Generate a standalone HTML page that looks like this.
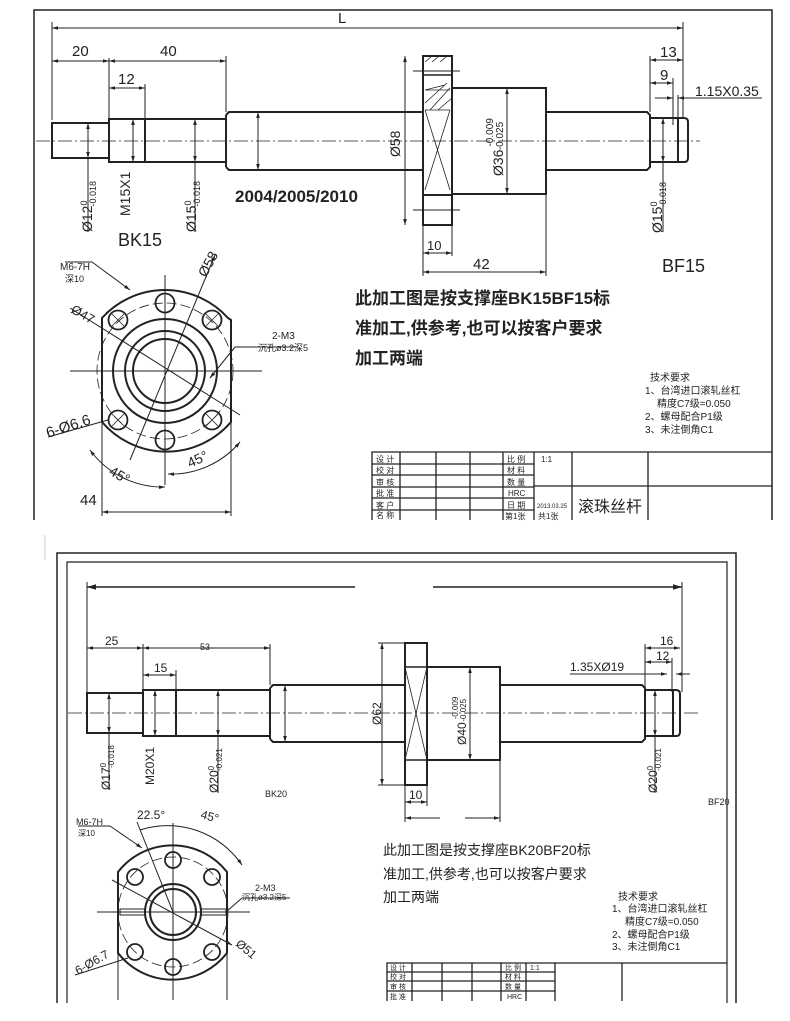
<!DOCTYPE html>
<html><head><meta charset="utf-8"><style>
html,body{margin:0;padding:0;background:#fff;}
svg{display:block;}
text{font-family:"Liberation Sans","Noto Sans CJK SC",sans-serif;fill:#222;}
.cj{font-family:"Liberation Sans","Noto Sans CJK SC",sans-serif;}
</style></head><body>
<svg width="790" height="1021" viewBox="0 0 790 1021" xmlns="http://www.w3.org/2000/svg">
<defs>
<marker id="a" viewBox="0 0 10 10" refX="10" refY="5" markerWidth="6" markerHeight="6" orient="auto-start-reverse"><path d="M0,2 L10,5 L0,8 z" fill="#222"/></marker>
</defs>
<g stroke="#222" fill="none" stroke-width="1">
<!-- ================= TOP DRAWING ================= -->
<path d="M34,520 V10 H772 V520" stroke-width="1.5"/>
<!-- L dim -->
<line x1="52" y1="28" x2="683" y2="28" marker-start="url(#a)" marker-end="url(#a)"/>
<line x1="52" y1="22" x2="52" y2="120"/>
<line x1="683" y1="22" x2="683" y2="118"/>
<!-- 20 / 40 -->
<line x1="52" y1="61" x2="109" y2="61" marker-start="url(#a)" marker-end="url(#a)"/>
<line x1="109" y1="61" x2="226" y2="61" marker-start="url(#a)" marker-end="url(#a)"/>
<line x1="109" y1="58" x2="109" y2="119"/>
<line x1="226" y1="56" x2="226" y2="112"/>
<line x1="109" y1="88" x2="145" y2="88" marker-start="url(#a)" marker-end="url(#a)"/>
<line x1="145" y1="84" x2="145" y2="119"/>
<!-- 13 / 9 -->
<line x1="650" y1="60" x2="683" y2="60" marker-start="url(#a)" marker-end="url(#a)"/>
<line x1="650" y1="56" x2="650" y2="112"/>
<line x1="650" y1="83" x2="673" y2="83" marker-start="url(#a)" marker-end="url(#a)"/>
<line x1="673" y1="78" x2="673" y2="125"/>
<line x1="678" y1="95" x2="678" y2="125"/>
<line x1="655" y1="98" x2="673" y2="98" marker-end="url(#a)"/>
<line x1="678" y1="98" x2="762" y2="98" marker-start="url(#a)"/>
<!-- centerline -->
<line x1="36" y1="141" x2="700" y2="141" stroke-dasharray="14,3,2,3" stroke-width="0.8"/>
<!-- shaft -->
<g stroke-width="2">
<rect x="52" y="123" width="57" height="35"/>
<rect x="109" y="119" width="36" height="43"/>
<rect x="145" y="119" width="81" height="43"/>
<path d="M226,115 L229,112 H423 M226,167 L229,170 H423 M226,115 V167"/>
<rect x="423" y="56" width="29" height="169"/>
<rect x="452" y="88" width="94" height="106"/>
<path d="M546,112 H647 L650,115 V167 L647,170 H546"/>
<path d="M650,118 H684 Q688,118 688,122 V158 Q688,162 684,162 H650"/>
<line x1="678" y1="118" x2="678" y2="162"/>
</g>
<line x1="423" y1="75" x2="452" y2="75" stroke-width="1.5"/>
<line x1="423" y1="195" x2="452" y2="195" stroke-width="2"/>
<line x1="413" y1="71" x2="460" y2="71"/>
<line x1="413" y1="210" x2="460" y2="210"/>
<path d="M425,90 L450,90 M425,110 L450,110 M425,90 l20,-5 M430,110 l20,-22 M425,103 l22,-20 M438,110 l14,-12 M425,62 l6,-5 M432,62 l6,-5 M440,62 l6,-5" stroke-width="0.8"/>
<path d="M425,110 L450,190 M450,110 L425,190" stroke-width="0.8"/>
<!-- vertical dims -->
<line x1="88" y1="123" x2="88" y2="158" marker-start="url(#a)" marker-end="url(#a)"/>
<line x1="88" y1="158" x2="88" y2="232"/>
<line x1="133" y1="119" x2="133" y2="162" marker-start="url(#a)" marker-end="url(#a)"/>
<line x1="195" y1="119" x2="195" y2="162" marker-start="url(#a)" marker-end="url(#a)"/>
<line x1="195" y1="162" x2="195" y2="232"/>
<line x1="258" y1="112" x2="258" y2="170" marker-start="url(#a)" marker-end="url(#a)"/>
<line x1="405" y1="56" x2="405" y2="225" marker-start="url(#a)" marker-end="url(#a)"/>
<line x1="507" y1="88" x2="507" y2="194" marker-start="url(#a)" marker-end="url(#a)"/>
<line x1="663" y1="118" x2="663" y2="162" marker-start="url(#a)" marker-end="url(#a)"/>
<line x1="663" y1="162" x2="663" y2="232"/>
<!-- 10 / 42 -->
<line x1="423" y1="225" x2="423" y2="276"/>
<line x1="452" y1="225" x2="452" y2="256"/>
<line x1="546" y1="194" x2="546" y2="276"/>
<line x1="423" y1="253" x2="452" y2="253" marker-start="url(#a)" marker-end="url(#a)"/>
<line x1="423" y1="272" x2="546" y2="272" marker-start="url(#a)" marker-end="url(#a)"/>
<!-- flange view top -->
<path d="M102,318 A85,85 0 0 1 228,318 L231,320 V422 A85,85 0 0 1 102,422 Z" stroke-width="2"/>
<circle cx="165" cy="371" r="52" stroke-width="2"/>
<circle cx="165" cy="371" r="40" stroke-width="2"/>
<circle cx="165" cy="371" r="32" stroke-width="2"/>
<circle cx="165" cy="371" r="68" stroke-dasharray="10,4" stroke-width="0.8"/>
<g stroke-width="1.8">
<circle cx="165" cy="303" r="9.5"/><circle cx="165" cy="440" r="9.5"/>
<circle cx="118" cy="320" r="9.5"/><circle cx="212" cy="320" r="9.5"/>
<circle cx="118" cy="420" r="9.5"/><circle cx="212" cy="420" r="9.5"/>
</g>
<path d="M112,314 l12,12 M124,314 l-12,12 M206,314 l12,12 M218,314 l-12,12 M112,414 l12,12 M124,414 l-12,12 M206,414 l12,12 M218,414 l-12,12" stroke-width="0.8"/>
<line x1="70" y1="371" x2="262" y2="371"/><line x1="165" y1="275" x2="165" y2="485"/>
<line x1="70" y1="308" x2="240" y2="415"/>
<line x1="130" y1="460" x2="215" y2="255" marker-end="url(#a)"/>
<line x1="65" y1="262" x2="92" y2="262"/><line x1="92" y1="262" x2="130" y2="290" marker-end="url(#a)"/>
<line x1="235" y1="347" x2="298" y2="347"/><line x1="235" y1="347" x2="210" y2="378" marker-end="url(#a)"/>
<line x1="48" y1="437" x2="108" y2="420"/>
<path d="M90,450 A90,90 0 0 0 165,487" marker-start="url(#a)" marker-end="url(#a)"/>
<path d="M168,474 A90,90 0 0 0 240,442" marker-start="url(#a)" marker-end="url(#a)"/>
<line x1="102" y1="422" x2="102" y2="516"/><line x1="231" y1="422" x2="231" y2="516"/>
<line x1="102" y1="512" x2="231" y2="512" marker-start="url(#a)" marker-end="url(#a)"/>
<!-- title block top -->
<g stroke-width="1.3">
<path d="M372,520 V452 H772 M372,464 H534 M372,475 H534 M372,487 H534 M372,498 H534 M372,510 H534 M534,486 H772"/>
<path d="M400,452 V520 M436,452 V520 M470,452 V520 M503,452 V520 M534,452 V520 M572,452 V520 M648,452 V520"/>
</g>

<!-- ================= BOTTOM DRAWING ================= -->
<path d="M57,1003 V553 H736 V1003" stroke-width="1.5"/>
<path d="M67,1003 V562 H727 V1003" stroke-width="1.2"/>
<line x1="45" y1="535" x2="45" y2="560" stroke="#ccc"/>
<line x1="87" y1="587" x2="355" y2="587" marker-start="url(#a)" stroke-width="1.5"/>
<line x1="433" y1="587" x2="682" y2="587" marker-end="url(#a)" stroke-width="1.5"/>
<line x1="87" y1="582" x2="87" y2="700"/><line x1="682" y1="582" x2="682" y2="692"/>
<line x1="87" y1="648" x2="143" y2="648" marker-start="url(#a)" marker-end="url(#a)"/>
<line x1="143" y1="648" x2="270" y2="648" marker-start="url(#a)" marker-end="url(#a)"/>
<line x1="143" y1="644" x2="143" y2="690"/><line x1="270" y1="644" x2="270" y2="685"/>
<line x1="143" y1="675" x2="176" y2="675" marker-start="url(#a)" marker-end="url(#a)"/>
<line x1="176" y1="670" x2="176" y2="690"/>
<line x1="645" y1="648" x2="680" y2="648" marker-start="url(#a)" marker-end="url(#a)"/>
<line x1="645" y1="644" x2="645" y2="690"/>
<line x1="645" y1="662" x2="672" y2="662" marker-start="url(#a)" marker-end="url(#a)"/>
<line x1="672" y1="658" x2="672" y2="692"/>
<line x1="570" y1="674" x2="667" y2="674" marker-end="url(#a)"/>
<line x1="676" y1="674" x2="690" y2="674" marker-start="url(#a)"/>
<line x1="68" y1="713" x2="700" y2="713" stroke-dasharray="14,3,2,3" stroke-width="0.8"/>
<g stroke-width="2">
<rect x="87" y="693" width="56" height="40"/>
<rect x="143" y="690" width="33" height="46"/>
<rect x="176" y="690" width="94" height="46"/>
<path d="M270,688 L273,685 H405 M270,739 L273,742 H405 M270,688 V739"/>
<rect x="405" y="643" width="22" height="142"/>
<rect x="427" y="667" width="73" height="93"/>
<path d="M500,685 H642 L645,688 V739 L642,742 H500"/>
<path d="M645,690 H676 Q680,690 680,694 V732 Q680,736 676,736 H645"/>
<line x1="673" y1="690" x2="673" y2="736"/>
</g>
<line x1="405" y1="667" x2="427" y2="667" stroke-width="1.5"/>
<line x1="405" y1="760" x2="427" y2="760" stroke-width="1.5"/>
<path d="M405,667 L427,760 M427,667 L405,760" stroke-width="0.8"/>
<line x1="109" y1="693" x2="109" y2="733" marker-start="url(#a)" marker-end="url(#a)"/>
<line x1="109" y1="733" x2="109" y2="790"/>
<line x1="155" y1="690" x2="155" y2="736" marker-start="url(#a)" marker-end="url(#a)"/>
<line x1="218" y1="690" x2="218" y2="736" marker-start="url(#a)" marker-end="url(#a)"/>
<line x1="218" y1="736" x2="218" y2="793"/>
<line x1="285" y1="685" x2="285" y2="742" marker-start="url(#a)" marker-end="url(#a)"/>
<line x1="382" y1="643" x2="382" y2="785" marker-start="url(#a)" marker-end="url(#a)"/>
<line x1="378" y1="643" x2="405" y2="643"/><line x1="378" y1="785" x2="405" y2="785"/>
<line x1="470" y1="667" x2="470" y2="760" marker-start="url(#a)" marker-end="url(#a)"/>
<line x1="655" y1="690" x2="655" y2="736" marker-start="url(#a)" marker-end="url(#a)"/>
<line x1="655" y1="736" x2="655" y2="793"/>
<line x1="405" y1="785" x2="405" y2="822"/><line x1="427" y1="785" x2="427" y2="806"/>
<line x1="500" y1="760" x2="500" y2="822"/>
<line x1="405" y1="802" x2="427" y2="802" marker-start="url(#a)" marker-end="url(#a)"/>
<line x1="405" y1="818" x2="440" y2="818" marker-start="url(#a)"/><line x1="465" y1="818" x2="500" y2="818" marker-end="url(#a)"/>
<!-- flange view bottom -->
<path d="M118,872 A69,69 0 0 1 227,872 V953 A69,69 0 0 1 118,953 Z" stroke-width="2"/>
<circle cx="173" cy="912" r="28" stroke-width="2"/>
<circle cx="173" cy="912" r="23" stroke-width="2"/>
<circle cx="173" cy="912" r="55" stroke-dasharray="10,4" stroke-width="0.8"/>
<g stroke-width="1.8">
<circle cx="173" cy="860" r="8"/><circle cx="173" cy="967" r="8"/>
<circle cx="135" cy="877" r="8"/><circle cx="212" cy="877" r="8"/>
<circle cx="135" cy="952" r="8"/><circle cx="212" cy="952" r="8"/>
</g>
<rect x="120" y="909" width="25" height="6" stroke-width="1"/><rect x="201" y="909" width="25" height="6" stroke-width="1"/>
<line x1="97" y1="912" x2="250" y2="912"/><line x1="173" y1="823" x2="173" y2="1000"/>
<line x1="112" y1="880" x2="232" y2="945" marker-end="url(#a)"/>
<line x1="137" y1="822" x2="173" y2="912"/>
<path d="M140,830 A90,90 0 0 1 242,865" marker-end="url(#a)"/>
<line x1="78" y1="826" x2="110" y2="826"/><line x1="110" y1="826" x2="142" y2="848" marker-end="url(#a)"/>
<line x1="242" y1="898" x2="290" y2="898"/><line x1="242" y1="898" x2="226" y2="912"/>
<line x1="75" y1="975" x2="128" y2="958"/>
<line x1="118" y1="953" x2="118" y2="1000"/><line x1="227" y1="953" x2="227" y2="1000"/>
<!-- title block bottom -->
<g stroke-width="1.3">
<path d="M387,1001 V963 H727 M387,972 H555 M387,981 H555 M387,991 H555"/>
<path d="M412,963 V1001 M442,963 V1001 M472,963 V1001 M501,963 V1001 M526,963 V1001 M555,963 V1001 M622,963 V1001"/>
</g>
</g>

<!-- ============== TEXT TOP ============== -->
<g font-size="15">
<text x="338" y="23">L</text>
<text x="72" y="56">20</text><text x="160" y="56">40</text>
<text x="118" y="84">12</text>
<text x="660" y="57">13</text><text x="660" y="80">9</text>
<text x="695" y="96" font-size="14">1.15X0.35</text>
<text x="427" y="250" font-size="13">10</text>
<text x="473" y="269">42</text>
<text x="118" y="246" font-size="18" fill="#333">BK15</text>
<text x="662" y="272" font-size="18" fill="#333">BF15</text>
<text x="80" y="505" font-size="15">44</text>
</g>
<text x="235" y="202" font-size="17" font-weight="bold" fill="#111">2004/2005/2010</text>
<g font-size="14">
<text transform="translate(92,232) rotate(-90)">Ø12<tspan font-size="9" dy="-5">0</tspan><tspan font-size="9" dx="-6" dy="9">-0.018</tspan></text>
<text transform="translate(130,216) rotate(-90)">M15X1</text>
<text transform="translate(196,232) rotate(-90)">Ø15<tspan font-size="9" dy="-5">0</tspan><tspan font-size="9" dx="-6" dy="9">-0.018</tspan></text>
<text transform="translate(400,157) rotate(-90)">Ø58</text>
<text transform="translate(503,176) rotate(-90)">Ø36<tspan font-size="10" dx="3" dy="-10">-0.009</tspan><tspan font-size="10" dx="-32" dy="10">-0.025</tspan></text>
<text transform="translate(662,233) rotate(-90)">Ø15<tspan font-size="9" dy="-5">0</tspan><tspan font-size="9" dx="-6" dy="9">-0.018</tspan></text>
</g>
<text x="60" y="270" font-size="10">M6-7H</text><text x="65" y="282" font-size="9" class="cj">深10</text>
<text transform="translate(206,278) rotate(-62)" font-size="14">Ø58</text>
<text transform="translate(70,312) rotate(30)" font-size="13">Ø47</text>
<text x="272" y="339" font-size="10">2-M3</text>
<text x="258" y="351" font-size="9" class="cj">沉孔ø3.2深5</text>
<text transform="translate(48,438) rotate(-18)" font-size="15">6-Ø6.6</text>
<text transform="translate(108,474) rotate(30)" font-size="14">45°</text>
<text transform="translate(190,468) rotate(-25)" font-size="14">45°</text>
<g font-size="17" font-weight="bold" class="cj" fill="#111">
<text x="355" y="304">此加工图是按支撑座BK15BF15标</text>
<text x="355" y="334">准加工,供参考,也可以按客户要求</text>
<text x="355" y="364">加工两端</text>
</g>
<g font-size="10" class="cj">
<text x="650" y="381">技术要求</text>
<text x="645" y="394">1、台湾进口滚轧丝杠</text>
<text x="657" y="407">精度C7级=0.050</text>
<text x="645" y="420">2、螺母配合P1级</text>
<text x="645" y="433">3、未注倒角C1</text>
</g>
<g font-size="8" class="cj">
<text x="376" y="462">设 计</text><text x="376" y="473">校 对</text><text x="376" y="485">审 核</text><text x="376" y="496">批 准</text><text x="376" y="508">客 户</text><text x="376" y="518">名 称</text>
<text x="507" y="462">比 例</text><text x="541" y="462">1:1</text><text x="507" y="473">材 料</text><text x="507" y="485">数 量</text><text x="508" y="496">HRC</text><text x="507" y="508">日 期</text><text x="537" y="508" font-size="6">2013.03.25</text><text x="505" y="519">第1张</text><text x="538" y="519">共1张</text>
</g>
<text x="578" y="512" font-size="16" class="cj">滚珠丝杆</text>

<!-- ============== TEXT BOTTOM ============== -->
<g font-size="12">
<text x="105" y="645">25</text><text x="200" y="650" font-size="9">53</text>
<text x="154" y="672">15</text>
<text x="660" y="645">16</text><text x="656" y="660">12</text>
<text x="570" y="671">1.35XØ19</text>
<text x="409" y="799">10</text>
<text x="265" y="797" font-size="9">BK20</text>
<text x="708" y="805" font-size="9">BF20</text>
<text transform="translate(110,790) rotate(-90)">Ø17<tspan font-size="8" dy="-4">0</tspan><tspan font-size="8" dx="-5" dy="8">-0.018</tspan></text>
<text transform="translate(154,785) rotate(-90)">M20X1</text>
<text transform="translate(218,793) rotate(-90)">Ø20<tspan font-size="8" dy="-4">0</tspan><tspan font-size="8" dx="-5" dy="8">-0.021</tspan></text>
<text transform="translate(381,725) rotate(-90)">Ø62</text>
<text transform="translate(466,745) rotate(-90)">Ø40<tspan font-size="8" dx="3" dy="-8">-0.009</tspan><tspan font-size="8" dx="-25" dy="8">-0.025</tspan></text>
<text transform="translate(657,793) rotate(-90)">Ø20<tspan font-size="8" dy="-4">0</tspan><tspan font-size="8" dx="-5" dy="8">-0.021</tspan></text>
</g>
<text x="137" y="819" font-size="12">22.5°</text>
<text transform="translate(200,818) rotate(15)" font-size="12">45°</text>
<text x="76" y="825" font-size="9">M6-7H</text><text x="78" y="836" font-size="8" class="cj">深10</text>
<text x="255" y="891" font-size="9">2-M3</text><text x="242" y="900" font-size="8" class="cj">沉孔ø3.2深5</text>
<text transform="translate(235,945) rotate(40)" font-size="12">Ø51</text>
<text transform="translate(78,975) rotate(-30)" font-size="12">6-Ø6.7</text>
<g font-size="14" class="cj" fill="#111">
<text x="383" y="855">此加工图是按支撑座BK20BF20标</text>
<text x="383" y="879">准加工,供参考,也可以按客户要求</text>
<text x="383" y="902">加工两端</text>
</g>
<g font-size="10" class="cj">
<text x="618" y="900">技术要求</text>
<text x="612" y="912">1、台湾进口滚轧丝杠</text>
<text x="625" y="925">精度C7级=0.050</text>
<text x="612" y="938">2、螺母配合P1级</text>
<text x="612" y="950">3、未注倒角C1</text>
</g>
<g font-size="7" class="cj">
<text x="390" y="970">设 计</text><text x="390" y="979">校 对</text><text x="390" y="989">审 核</text><text x="390" y="999">批 准</text>
<text x="505" y="970">比 例</text><text x="530" y="970">1:1</text><text x="505" y="979">材 料</text><text x="505" y="989">数 量</text><text x="507" y="999">HRC</text>
</g>
</svg>
</body></html>
